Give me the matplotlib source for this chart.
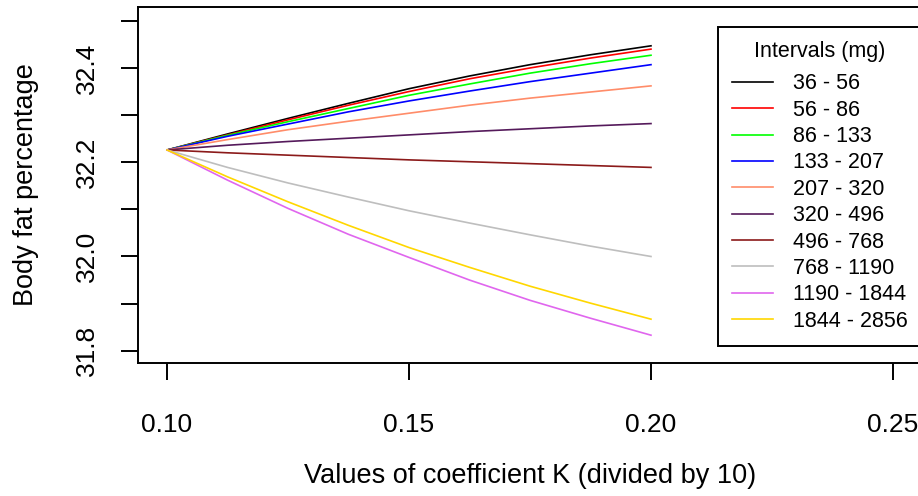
import matplotlib.pyplot as plt

plt.rcParams['font.family'] = ['Liberation Sans', 'DejaVu Sans']

# K values (divided by 10)
k = [0.1000, 0.1125, 0.1250, 0.1375, 0.1500, 0.1625, 0.1750, 0.1875, 0.2000]

intervals = ['36 - 56', '56 - 86', '86 - 133', '133 - 207', '207 - 320',
             '320 - 496', '496 - 768', '768 - 1190', '1190 - 1844', '1844 - 2856']

# body fat percentage
fat_36 = [32.226, 32.260, 32.293, 32.325, 32.356, 32.383, 32.407, 32.428, 32.447]
fat_56 = [32.226, 32.258, 32.290, 32.321, 32.350, 32.377, 32.400, 32.421, 32.440]
fat_86 = [32.226, 32.257, 32.286, 32.314, 32.342, 32.366, 32.389, 32.409, 32.427]
fat_133 = [32.226, 32.255, 32.281, 32.307, 32.330, 32.351, 32.371, 32.389, 32.407]
fat_207 = [32.226, 32.248, 32.269, 32.287, 32.304, 32.321, 32.336, 32.349, 32.362]
fat_320 = [32.226, 32.236, 32.244, 32.251, 32.258, 32.265, 32.271, 32.277, 32.282]
fat_496 = [32.226, 32.220, 32.215, 32.210, 32.205, 32.201, 32.197, 32.193, 32.189]
fat_768 = [32.226, 32.189, 32.156, 32.126, 32.097, 32.071, 32.046, 32.022, 32.000]
fat_1190 = [32.226, 32.162, 32.102, 32.047, 31.998, 31.950, 31.907, 31.869, 31.833]
fat_1844 = [32.226, 32.169, 32.116, 32.066, 32.019, 31.977, 31.937, 31.901, 31.867]

series = [fat_36, fat_56, fat_86, fat_133, fat_207,
          fat_320, fat_496, fat_768, fat_1190, fat_1844]
colors = ['black', '#FF0000', '#00FF00', '#0000FF', '#FF8C69',
          '#551A5B', '#8B1A1A', '#BEBEBE', '#E066EE', '#FFD700']

fig = plt.figure(figsize=(9.18, 4.96), dpi=100)
# axes box runs a little past the right edge, like the original
ax = fig.add_axes([138 / 918, 133 / 496, 784 / 918, 356.3 / 496])

for vals, lab, c in zip(series, intervals, colors):
    ax.plot(k, vals, color=c, lw=1.2, label=lab)

ax.set_xlim(0.094, 0.256)
ax.set_ylim(31.774, 32.53)
ax.set_xticks([0.10, 0.15, 0.20, 0.25])
ax.set_xticklabels(['0.10', '0.15', '0.20', '0.25'])
ax.set_yticks([31.8, 31.9, 32.0, 32.1, 32.2, 32.3, 32.4, 32.5])
ax.set_yticklabels(['31.8', '', '32.0', '', '32.2', '', '32.4', ''],
                   rotation=90, va='center')

for s in ax.spines.values():
    s.set_linewidth(1.4)
ax.tick_params(axis='both', labelsize=19, length=12, width=1.4, direction='out')
ax.tick_params(axis='x', pad=24)
ax.tick_params(axis='y', pad=16)

ax.set_xlabel('Values of coefficient K (divided by 10)', fontsize=19.5, labelpad=18.5)
ax.set_ylabel('Body fat percentage', fontsize=19.5, labelpad=26)

leg = ax.legend(title='Intervals (mg)', loc='upper right',
                bbox_to_anchor=(1.0, 0.942), borderaxespad=0,
                fontsize=15.5, title_fontsize=15.5, frameon=True,
                fancybox=False, edgecolor='black', framealpha=1,
                handlelength=1.9, handletextpad=0.95, borderpad=0.65,
                labelspacing=0.25)
leg.get_frame().set_linewidth(1.4)
# a bit more room between the title and the entries
leg._legend_box.sep = 0.25 * 15.5 + 4

fig.savefig('out.png', dpi=100)
